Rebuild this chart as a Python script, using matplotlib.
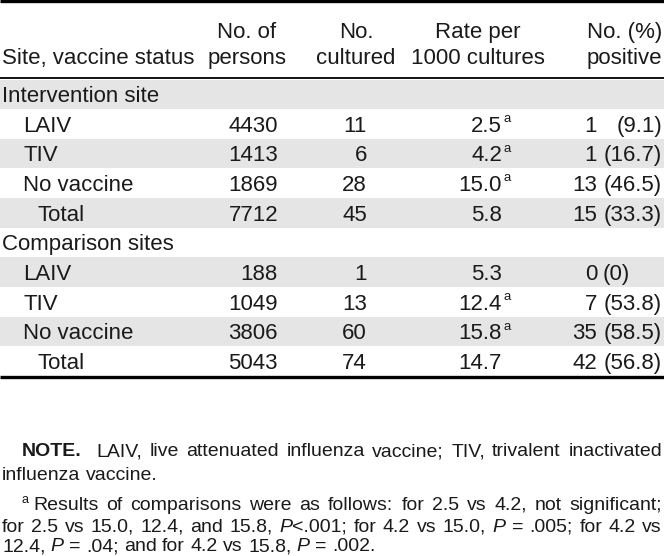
import matplotlib
matplotlib.use("Agg")
import matplotlib.pyplot as plt

plt.rcParams['font.family'] = ['Liberation Sans', 'DejaVu Sans']

# ---- data ----
row_labels = ["Intervention site", "LAIV", "TIV", "No vaccine", "Total",
              "Comparison sites", "LAIV", "TIV", "No vaccine", "Total"]
row_indent = [0, 1, 1, 1, 2, 0, 1, 1, 1, 2]
persons = [None, 4430, 1413, 1869, 7712, None, 188, 1049, 3806, 5043]
cultured = [None, 11, 6, 28, 45, None, 1, 13, 60, 74]
rates = [None, "2.5", "4.2", "15.0", "5.8", None, "5.3", "12.4", "15.8", "14.7"]
rate_sup = [False, True, True, True, False, False, False, True, True, False]
pos_n = [None, 1, 1, 13, 15, None, 0, 7, 35, 42]
pos_pct = [None, "9.1", "16.7", "46.5", "33.3", None, "0", "53.8", "58.5", "56.8"]

W, H = 664, 556
fig = plt.figure(figsize=(W / 100, H / 100), dpi=100)
ax = fig.add_axes([0, 0, 1, 1])
ax.set_xlim(0, W)
ax.set_ylim(H, 0)
ax.axis("off")

TXT = "#1a1a1a"
FS = 16
GRAY = "#e5e5e5"

row_top0 = 79.5
row_h = 29.65
DY = 2.2  # visual centring offset

# shading
for i in range(len(row_labels)):
    if i % 2 == 0:
        ax.add_patch(plt.Rectangle((0, row_top0 + i * row_h), W, row_h,
                                   color=GRAY, lw=0, zorder=0))

# rules
ax.plot([0, W], [1.2, 1.2], color="black", lw=2.4, solid_capstyle="butt")
ax.plot([0, W], [78.0, 78.0], color="black", lw=1.3, solid_capstyle="butt")
bottom = row_top0 + len(row_labels) * row_h
ax.plot([0, W], [bottom + 1.3, bottom + 1.3], color="black", lw=2.4,
        solid_capstyle="butt")

# header
hy1, hy2 = 31 + DY - 1, 57 + DY - 1
ax.text(2, hy2, "Site, vaccine status", fontsize=FS, color=TXT, va="center", ha="left")
ax.text(247, hy1, "No. of", fontsize=FS, color=TXT, va="center", ha="center")
ax.text(247, hy2, "persons", fontsize=FS, color=TXT, va="center", ha="center")
ax.text(356, hy1, "No.", fontsize=FS, color=TXT, va="center", ha="center")
ax.text(356, hy2, "cultured", fontsize=FS, color=TXT, va="center", ha="center")
ax.text(478, hy1, "Rate per", fontsize=FS, color=TXT, va="center", ha="center")
ax.text(478, hy2, "1000 cultures", fontsize=FS, color=TXT, va="center", ha="center")
ax.text(662, hy1, "No. (%)", fontsize=FS, color=TXT, va="center", ha="right")
ax.text(662, hy2, "positive", fontsize=FS, color=TXT, va="center", ha="right")

indent_x = [2, 23, 38]
for i, lab in enumerate(row_labels):
    yc = row_top0 + i * row_h + row_h / 2 + DY
    ax.text(indent_x[row_indent[i]], yc, lab, fontsize=FS, color=TXT,
            va="center", ha="left")
    if persons[i] is not None:
        ax.text(278, yc, str(persons[i]), fontsize=FS, color=TXT, va="center", ha="right")
        ax.text(367, yc, str(cultured[i]), fontsize=FS, color=TXT, va="center", ha="right")
        ax.text(502, yc, rates[i], fontsize=FS, color=TXT, va="center", ha="right")
        if rate_sup[i]:
            ax.text(503, yc - 7, "a", fontsize=9.5, color=TXT, va="center", ha="left")
        ax.text(597, yc, str(pos_n[i]), fontsize=FS, color=TXT, va="center", ha="right")
        if "." in pos_pct[i]:
            ax.text(662, yc, f"({pos_pct[i]})", fontsize=FS, color=TXT,
                    va="center", ha="right")
        else:
            ax.text(603, yc, f"({pos_pct[i]})", fontsize=FS, color=TXT,
                    va="center", ha="left")

# ---- notes (justified) ----
NFS = 14
fig.canvas.draw()
renderer = fig.canvas.get_renderer()


def seg_width(s, style, weight):
    t = ax.text(0, 0, s, fontsize=NFS, style=style, weight=weight)
    w = t.get_window_extent(renderer).width
    t.remove()
    return w


def parse_word(w):
    if w.startswith("**") and w.endswith("**"):
        return [(w[2:-2], "normal", "bold")]
    segs = []
    parts = w.split("*")
    for k, p in enumerate(parts):
        if p:
            segs.append((p, "italic" if k % 2 == 1 else "normal", "normal"))
    return segs


def draw_line(line, y, x0, x1, justify=True):
    words = [parse_word(w) for w in line.split(" ")]
    widths = [[seg_width(*s) for s in wd] for wd in words]
    totals = [sum(w) for w in widths]
    space = seg_width("a a", "normal", "normal") - seg_width("aa", "normal", "normal")
    if justify and len(words) > 1:
        gap = (x1 - x0 - sum(totals)) / (len(words) - 1)
    else:
        gap = space
    x = x0
    for wd, ws in zip(words, widths):
        xx = x
        for (s, st, wt), w in zip(wd, ws):
            ax.text(xx, y, s, fontsize=NFS, style=st, weight=wt, color=TXT,
                    va="center", ha="left")
            xx += w
        x += sum(ws) + gap


draw_line("**NOTE.**  LAIV, live attenuated influenza vaccine; TIV, trivalent inactivated",
          452, 22, 662)
draw_line("influenza vaccine.", 475, 2, 662, justify=False)
ax.text(22, 500, "a", fontsize=9, color=TXT, va="center", ha="left")
draw_line("Results of comparisons were as follows: for 2.5 vs 4.2, not significant;",
          505.5, 33, 662)
draw_line("for 2.5 vs 15.0, 12.4, and 15.8, *P*<.001; for 4.2 vs 15.0, *P* = .005; for 4.2 vs",
          527.5, 2, 662)
draw_line("12.4, *P* = .04; and for 4.2 vs 15.8, *P* = .002.", 546.5, 2, 662, justify=False)

fig.savefig("out.png", dpi=100)
